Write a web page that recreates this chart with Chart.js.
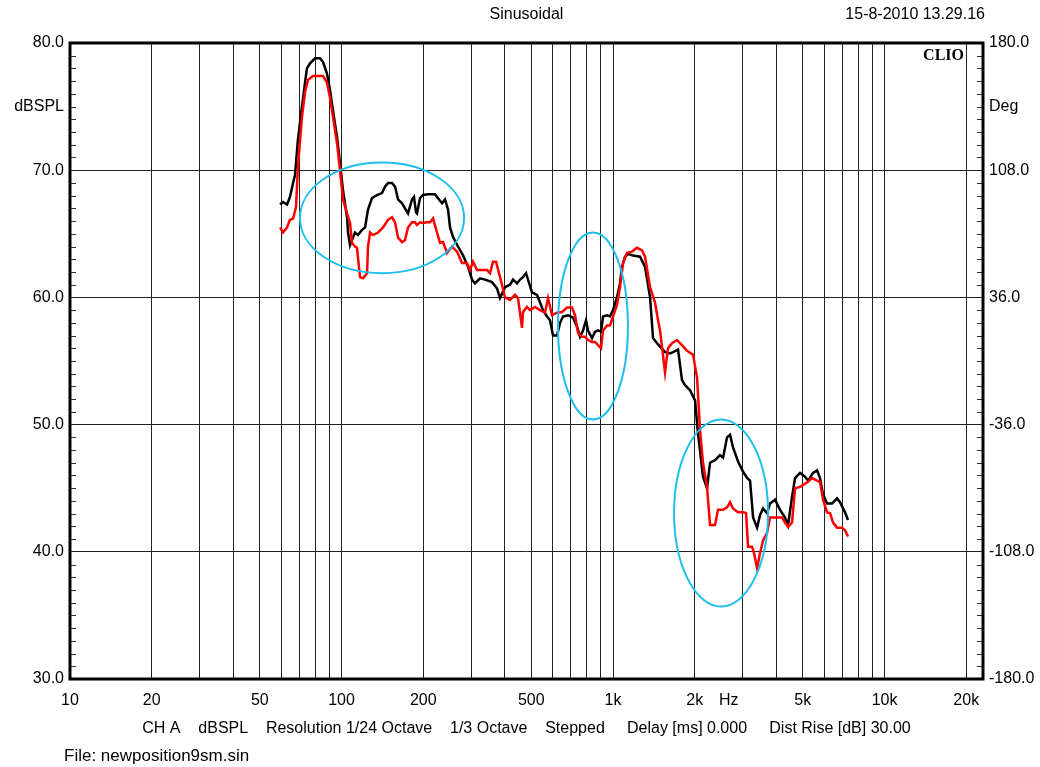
<!DOCTYPE html>
<html>
<head>
<meta charset="utf-8">
<title>Sinusoidal</title>
<script src="https://cdn.jsdelivr.net/npm/chart.js@4.4.1/dist/chart.umd.min.js"></script>
<style>
  html, body { margin: 0; padding: 0; background: #fff; }
  canvas { display: block; }
</style>
</head>
<body>
<canvas id="chart" width="1040" height="767"></canvas>
<script>
// --- data ---
const blackFreq = [59.4, 60.9, 63.0, 64.6, 66.3, 67.4, 69.1, 71.5, 73.4, 74.6, 76.6, 79.9, 83.3, 85.5, 88.4, 90.7, 93.0, 96.3, 98.7,
  101.3, 104.8, 105.7, 107.5, 109.3, 112.1, 115.0, 119.0, 122.1, 125.2, 129.5, 135.1, 141.0, 144.6, 148.4, 153.5, 157.5, 161.5,
  167.1, 171.3, 175.8, 181.8, 184.9, 188.1, 189.7, 194.6, 199.6, 208.3, 221.1, 226.7, 234.6, 240.6, 246.9, 251.0, 257.5, 268.6,
  280.3, 292.4, 302.5, 310.2, 323.6, 337.7, 358.4, 373.9, 383.5, 400.2, 417.5, 428.3, 443.0, 454.5, 466.2, 478.2, 486.3, 503.1,
  524.9, 538.4, 552.3, 571.4, 586.1, 601.2, 622.0, 638.0, 654.4, 682.8, 712.4, 737.0, 756.0, 775.5, 795.5, 809.1, 837.0, 858.5,
  880.6, 903.3, 918.7, 950.4, 975.0, 1000, 1034, 1061, 1079, 1107, 1136, 1185, 1258, 1312, 1369, 1404, 1465, 1554, 1622, 1664,
  1736, 1795, 1842, 1922, 2005, 2056, 2145, 2219, 2277, 2375, 2478, 2543, 2630, 2698, 2767, 2887, 3012, 3117, 3197, 3280, 3393,
  3480, 3570, 3693, 3788, 3952, 4123, 4300, 4412, 4563, 4681, 4885, 5096, 5227, 5453, 5641, 5786, 5936, 6140, 6407, 6683, 6856,
  7153, 7337];
const blackDb = [67.3, 67.5, 67.3, 67.9, 69.0, 69.6, 72.4, 75.0, 76.9, 78.0, 78.4, 78.8, 78.8, 78.5, 77.6, 76.3, 74.7, 72.6, 70.6,
  68.4, 66.3, 65.1, 64.1, 64.5, 65.1, 64.9, 65.3, 65.5, 66.9, 67.8, 68.05, 68.2, 68.7, 69.0, 69.0, 68.7, 67.7,
  67.4, 67.0, 66.6, 67.7, 67.9, 66.7, 66.6, 67.8, 68.05, 68.1, 68.1, 67.8, 67.4, 67.7, 66.9, 65.5, 64.75, 64.0,
  63.3, 62.4, 61.4, 61.1, 61.5, 61.4, 61.2, 60.7, 59.95, 60.8, 61.0, 61.4, 61.1, 61.4, 61.6, 61.9, 61.4, 60.4,
  60.2, 59.6, 59.0, 58.5, 58.2, 57.0, 57.0, 58.0, 58.5, 58.6, 58.4, 57.7, 56.9, 57.4, 58.2, 57.4, 56.8, 57.3,
  57.4, 57.3, 58.5, 58.6, 58.5, 59.0, 60.0, 61.1, 62.4, 63.2, 63.4, 63.3, 63.2, 62.4, 60.0, 56.8, 56.3, 55.7, 55.6, 55.7,
  55.9, 53.5, 53.1, 52.7, 51.9, 49.3, 45.9, 45.0, 47.0, 47.2, 47.6, 47.4, 49.0, 49.2, 48.2, 47.1, 46.3, 45.8, 45.6, 42.7, 41.9,
  42.9, 43.4, 43.05, 43.8, 44.1, 43.3, 42.7, 42.1, 44.3, 45.8, 46.2, 45.9, 45.6, 46.2, 46.4, 45.8, 44.5, 43.8, 43.8, 44.2, 43.9,
  43.1, 42.5];

const redFreq = [59.4, 60.9, 63.0, 64.6, 66.3, 68.0, 69.1, 71.5, 73.4, 75.3, 78.5, 85.5, 88.4, 90.7, 93.0, 96.3, 98.7,
  101.3, 104.8, 107.5, 109.3, 112.1, 114.0, 117.0, 120.0, 124.2, 125.2, 127.4, 130.6, 136.3, 142.2, 148.4, 153.5, 157.5,
  161.5, 167.1, 171.3, 175.8, 181.8, 186.5, 189.7, 194.6, 199.6, 206.5, 211.8, 217.3, 224.8, 230.6, 236.5, 244.7, 255.3,
  266.3, 277.8, 289.9, 297.3, 305.1, 315.6, 329.2, 343.5, 352.4, 361.4, 370.8, 383.5, 400.2, 417.5, 435.5, 446.7, 462.1,
  466.2, 482.3, 494.8, 516.2, 538.4, 561.7, 576.2, 596.2, 622.0, 649.0, 677.0, 706.3, 724.4, 743.2, 768.9, 788.8, 809.1,
  837.0, 858.5, 880.6, 903.3, 918.7, 950.4, 975.0, 1000, 1034, 1061, 1089, 1126, 1175, 1226, 1279, 1312, 1369, 1428, 1465,
  1490, 1554, 1594, 1649, 1721, 1795, 1873, 1971, 2039, 2091, 2145, 2219, 2277, 2375, 2436, 2543, 2630, 2698, 2767, 2887,
  3012, 3090, 3143, 3252, 3307, 3393, 3480, 3570, 3693, 3788, 3952, 4193, 4300, 4412, 4563, 4681, 4885, 5010, 5227, 5408,
  5641, 5786, 5936, 6140, 6301, 6463, 6683, 6973, 7153, 7337];
const redDb = [65.5, 65.1, 65.5, 66.1, 66.2, 67.1, 70.25, 74.2, 76.15, 77.1, 77.4, 77.4, 76.9, 75.7, 74.2, 72.1, 70.0,
  67.7, 66.6, 65.85, 64.3, 64.0, 63.9, 61.6, 61.5, 61.9, 64.0, 65.1, 64.9, 65.1, 65.5, 66.1, 66.3, 65.9,
  64.7, 64.35, 64.5, 65.5, 65.9, 65.9, 65.7, 65.9, 65.85, 65.9, 65.9, 66.2, 65.1, 64.3, 64.35, 63.5, 64.0,
  63.6, 62.7, 62.7, 62.15, 62.8, 62.15, 62.15, 62.15, 61.9, 62.8, 62.8, 61.6, 60.0, 59.8, 60.2, 59.95, 57.6,
  58.85, 59.25, 59.0, 59.25, 59.0, 58.8, 59.95, 58.6, 58.8, 58.85, 59.2, 59.2, 58.6, 57.2, 56.9, 56.9, 56.65,
  56.5, 56.5, 56.25, 56.0, 57.4, 57.8, 57.8, 58.5, 59.4, 60.8, 62.7, 63.5, 63.6, 63.9, 63.7, 63.2, 60.8, 59.6, 58.2,
  57.4, 54.1, 56.0, 56.4, 56.65, 56.25, 55.8, 55.5, 53.7, 49.6, 47.0, 45.1, 42.1, 42.1, 43.3, 43.3, 43.5, 43.9, 43.4, 43.1,
  43.1, 43.05, 40.4, 40.4, 39.9, 38.7, 39.9, 40.9, 41.5, 42.7, 42.7, 42.7, 42.3, 41.95, 42.3, 45.0, 45.1, 45.25, 45.5, 45.8,
  45.6, 45.5, 44.1, 43.1, 43.05, 42.3, 41.9, 41.9, 41.7, 41.2];

// axis ticks
const xGridValues = [10, 20, 30, 40, 50, 60, 70, 80, 90, 100, 200, 300, 400, 500, 600, 700, 800, 900,
  1000, 2000, 3000, 4000, 5000, 6000, 7000, 8000, 9000, 10000, 20000];
const xLabelValues = [10, 20, 50, 100, 200, 500, 1000, 2000, 2670, 5000, 10000, 20000];
const xLabelTexts = ['10', '20', '50', '100', '200', '500', '1k', '2k', 'Hz', '5k', '10k', '20k'];
const yTickValues = [30, 40, 50, 60, 70, 75, 80];
const yUnitValue = 75;
const degTickValues = [180, 144, 108, 36, -36, -108, -180];
const degUnitValue = 144;

// highlight ellipses, bounds in Hz and dB
const ellipseFreqLo = [70.3, 627, 1678];
const ellipseFreqHi = [282.8, 1135, 3724];
const ellipseDbLo = [61.9, 50.4, 35.7];
const ellipseDbHi = [70.6, 65.1, 50.4];

const FONT = '"Liberation Sans", Arial, sans-serif';
Chart.defaults.font.family = FONT;
Chart.defaults.font.size = 16;
Chart.defaults.color = '#000';

const points = (fs, ds) => fs.map((f, i) => ({ x: f, y: ds[i] }));

// frame, minor ticks, ellipses and header/footer text
const decorPlugin = {
  id: 'decor',
  beforeDatasetsDraw(chart) {
    const { ctx, chartArea: a, scales } = chart;
    ctx.save();
    ctx.strokeStyle = '#333';
    ctx.lineWidth = 1;
    for (let v = 31; v < 80; v++) {
      if (v % 10 === 0) continue;
      const y = Math.round(scales.y.getPixelForValue(v)) + 0.5;
      ctx.beginPath();
      ctx.moveTo(a.left, y); ctx.lineTo(a.left + 6, y);
      ctx.moveTo(a.right - 6, y); ctx.lineTo(a.right, y);
      ctx.stroke();
    }
    ctx.restore();
  },
  afterDatasetsDraw(chart) {
    const { ctx, chartArea: a, scales } = chart;
    ctx.save();
    // ellipses
    ctx.strokeStyle = '#1cbfee';
    ctx.lineWidth = 2;
    ellipseFreqLo.forEach((lo, i) => {
      const x1 = scales.x.getPixelForValue(lo), x2 = scales.x.getPixelForValue(ellipseFreqHi[i]);
      const y1 = scales.y.getPixelForValue(ellipseDbHi[i]), y2 = scales.y.getPixelForValue(ellipseDbLo[i]);
      ctx.beginPath();
      ctx.ellipse((x1 + x2) / 2, (y1 + y2) / 2, (x2 - x1) / 2, (y2 - y1) / 2, 0, 0, Math.PI * 2);
      ctx.stroke();
    });
    // frame
    ctx.strokeStyle = '#000';
    ctx.lineWidth = 3;
    ctx.strokeRect(a.left, a.top, a.right - a.left, a.bottom - a.top);

    ctx.fillStyle = '#000';
    ctx.font = 'bold 16px "Liberation Serif", "Times New Roman", serif';
    ctx.textAlign = 'right';
    ctx.textBaseline = 'middle';
    ctx.fillText('CLIO', a.right - 19, a.top + 13);

    ctx.font = '16px ' + FONT;
    ctx.textAlign = 'center';
    ctx.fillText('Sinusoidal', (a.left + a.right) / 2, 15);
    ctx.textAlign = 'right';
    ctx.fillText('15-8-2010 13.29.16', a.right + 2, 15);
    ctx.textAlign = 'left';
    ctx.font = '17px ' + FONT;
    ctx.fillText('File: newposition9sm.sin', 64, 756);
    ctx.restore();
  }
};

new Chart(document.getElementById('chart'), {
  type: 'line',
  data: {
    datasets: [
      { label: 'B', data: points(redFreq, redDb), borderColor: '#ff0000', borderWidth: 2.5, pointRadius: 0, tension: 0 },
      { label: 'A', data: points(blackFreq, blackDb), borderColor: '#000000', borderWidth: 2.5, pointRadius: 0, tension: 0 }
    ]
  },
  options: {
    responsive: false,
    animation: false,
    events: [],
    layout: { padding: { top: 43, left: 0, right: 0, bottom: 0 } },
    plugins: { legend: { display: false }, tooltip: { enabled: false } },
    scales: {
      x: {
        type: 'logarithmic',
        min: 10,
        max: 23050,
        afterBuildTicks: s => { s.ticks = xGridValues.concat([2670]).sort((p, q) => p - q).map(v => ({ value: v })); },
        afterFit: s => { s.height = 88; },
        ticks: {
          autoSkip: false, maxRotation: 0, padding: 12,
          callback: v => { const i = xLabelValues.indexOf(v); return i >= 0 ? xLabelTexts[i] : ''; }
        },
        grid: {
          drawTicks: false,
          color: c => (c.tick && (c.tick.value === 2670 || c.tick.value === 10)) ? 'rgba(0,0,0,0)' : '#222',
          lineWidth: 1
        },
        border: { display: false },
        title: {
          display: true,
          text: 'CH A    dBSPL    Resolution 1/24 Octave    1/3 Octave    Stepped     Delay [ms] 0.000     Dist Rise [dB] 30.00',
          padding: { top: 29, bottom: 29 },
          font: { size: 16 }
        }
      },
      y: {
        position: 'left',
        min: 30,
        max: 80,
        afterBuildTicks: s => { s.ticks = yTickValues.map(v => ({ value: v })); },
        afterFit: s => { s.width = 70; },
        ticks: { padding: 6, callback: v => v === yUnitValue ? 'dBSPL' : v.toFixed(1) },
        grid: {
          drawTicks: false,
          color: c => (c.tick && c.tick.value % 10 === 0 && c.tick.value > 30 && c.tick.value < 80) ? '#222' : 'rgba(0,0,0,0)'
        },
        border: { display: false }
      },
      y2: {
        position: 'right',
        min: -180,
        max: 180,
        afterBuildTicks: s => { s.ticks = degTickValues.map(v => ({ value: v })); },
        afterFit: s => { s.width = 57; },
        ticks: { padding: 6, callback: v => v === degUnitValue ? 'Deg' : v.toFixed(1) },
        grid: { drawOnChartArea: false, drawTicks: false },
        border: { display: false }
      }
    }
  },
  plugins: [decorPlugin]
});
</script>
</body>
</html>
